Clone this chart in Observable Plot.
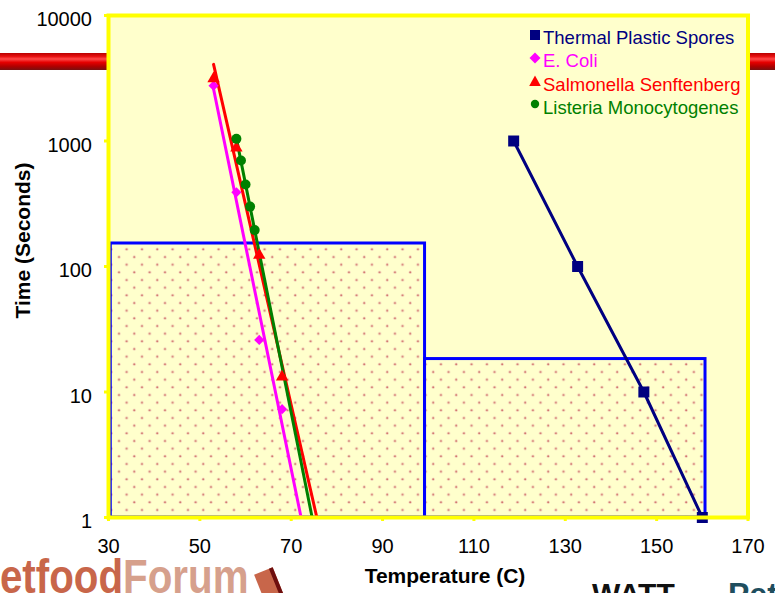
<!DOCTYPE html>
<html><head><meta charset="utf-8">
<script src="https://cdn.jsdelivr.net/npm/d3@7"></script>
<script src="https://cdn.jsdelivr.net/npm/@observablehq/plot@0.6"></script>
<style>
body{margin:0;background:#fff;}
#wrap{position:relative;width:775px;height:593px;overflow:hidden;font-family:"Liberation Sans",Arial,sans-serif;background:#fff;}
#bar{position:absolute;left:0;top:53px;width:775px;height:17px;background:linear-gradient(to bottom,#b80000 0%,#e81010 20%,#ff4a4a 35%,#e60000 55%,#b00000 78%,#781010 100%);}
#chart{position:absolute;left:0;top:0;}
.leg{position:absolute;left:529px;height:23.3px;line-height:23.3px;font-size:18.5px;white-space:nowrap;}
.leg svg{position:absolute;left:0;top:2.5px;}
.leg span{position:absolute;left:14px;top:0;}
.title{position:absolute;font-weight:bold;font-size:21px;line-height:21px;color:#000;white-space:nowrap;text-align:center;}
.logo{position:absolute;white-space:nowrap;font-weight:bold;}
</style></head>
<body><div id="wrap">
<div id="bar"></div>
<div id="chart"></div>
<div id="legend"></div>
<div class="title" style="left:325px;top:565.3px;width:240px;">Temperature (C)</div>
<div class="title" style="left:-98px;top:230px;width:240px;transform:rotate(-90deg);">Time (Seconds)</div>
<div class="logo" style="left:-27px;top:552.5px;font-size:48px;line-height:48px;transform-origin:0 0;transform:scaleX(0.84);color:#c8664a;">Petfood<span style="color:#d6a08c">Forum</span></div>
<div style="position:absolute;left:259px;top:570px;width:16px;height:30px;background:#c8664a;border-right:4px solid #6e0f0f;transform:rotate(-22deg);"></div>
<div class="logo" style="left:592px;top:579px;font-size:30px;line-height:30px;color:#111;">WATT</div>
<div class="logo" style="left:728px;top:578px;font-size:32px;line-height:32px;color:#1f4e5e;">Pet</div>
</div>
<script>
// ---- data ----
const xTicks = [30, 50, 70, 90, 110, 130, 150, 170];
const yTicks = [1, 10, 100, 1000, 10000];

const thermalTemp = [118.7, 132.7, 147.2, 160.0];
const thermalTime = [1000, 100, 10, 1];

const ecoliTemp = [53, 58, 63, 68];
const ecoliTime = [2760, 390, 26, 7.3];

const salmTemp = [53, 58, 63, 68];
const salmTime = [3140, 880, 123, 13.2];

const listTemp = [58, 59, 60, 61, 62];
const listTime = [1040, 700, 450, 300, 195];

const zoneStart = [30.5, 99.3];
const zoneEnd = [99.3, 160.7];
const zoneTime = [152.5, 18.3];
const zoneBase = [1, 1];

const seriesNames = ["Thermal Plastic Spores", "E. Coli", "Salmonella Senftenberg", "Listeria Monocytogenes"];
const seriesColors = ["#000080", "#ff00ff", "#ff0000", "#008000"];

// ---- tables ----
const pts = (xs, ys) => xs.map((t, i) => ({t, s: ys[i]}));
const thermal = pts(thermalTemp, thermalTime);
const ecoli = pts(ecoliTemp, ecoliTime);
const salm = pts(salmTemp, salmTime);
const list = pts(listTemp, listTime);
const zones = zoneStart.map((a, i) => ({x1: a, x2: zoneEnd[i], y1: zoneBase[i], y2: zoneTime[i]}));

// exponential trendline (linear fit of log10 time) from first point forward to time = 1
function trend(xs, ys) {
  const ly = ys.map(v => Math.log10(v));
  const mx = d3.mean(xs), my = d3.mean(ly);
  const b = d3.sum(xs, (x, i) => (x - mx) * (ly[i] - my)) / d3.sum(xs, x => (x - mx) ** 2);
  const a = my - b * mx;
  const x0 = d3.min(xs);
  return [{t: x0, s: 10 ** (a + b * x0)}, {t: -a / b, s: 1}];
}

const chart = Plot.plot({
  width: 775, height: 593,
  marginLeft: 108, marginRight: 27.5, marginTop: 15, marginBottom: 76,
  style: {background: "transparent", fontFamily: "Liberation Sans, Arial, sans-serif", overflow: "visible"},
  x: {domain: [30, 170]},
  y: {type: "log", domain: [1, 10000]},
  marks: [
    Plot.frame({fill: "#ffffcc", stroke: null}),
    Plot.rect(zones, {x1: "x1", x2: "x2", y1: "y1", y2: "y2", fill: "url(#dots)", stroke: "#0000ff", strokeWidth: 3}),
    Plot.line(thermal, {x: "t", y: "s", stroke: seriesColors[0], strokeWidth: 3}),
    Plot.line(trend(ecoliTemp, ecoliTime), {x: "t", y: "s", stroke: seriesColors[1], strokeWidth: 3}),
    Plot.line(trend(salmTemp, salmTime), {x: "t", y: "s", stroke: seriesColors[2], strokeWidth: 3}),
    Plot.line(trend(listTemp, listTime), {x: "t", y: "s", stroke: seriesColors[3], strokeWidth: 3}),
    Plot.dot(thermal, {x: "t", y: "s", symbol: "square", r: 6.2, fill: seriesColors[0], stroke: "none"}),
    Plot.dot(ecoli, {x: "t", y: "s", symbol: "diamond2", r: 4.6, fill: seriesColors[1], stroke: "none"}),
    Plot.dot(salm, {x: "t", y: "s", symbol: "triangle", r: 4.6, fill: seriesColors[2], stroke: "none"}),
    Plot.dot(list, {x: "t", y: "s", symbol: "circle", r: 5, fill: seriesColors[3], stroke: "none"}),
    Plot.axisX({ticks: xTicks, tickSize: 4, stroke: "#ffff00", strokeWidth: 3, tickFormat: () => "", label: null}),
    Plot.axisY({ticks: yTicks, tickSize: 4, stroke: "#ffff00", strokeWidth: 3, tickFormat: () => "", label: null}),
    Plot.frame({stroke: "#ffff00", strokeWidth: 4, fill: "none"}),
    Plot.axisX({ticks: xTicks, tickSize: 0, tickPadding: 21, fontSize: 20, fill: "#000", tickFormat: d => String(d), label: null}),
    Plot.axisY({ticks: yTicks, tickSize: 0, tickPadding: 16.5, fontSize: 20, dy: 4.5, fill: "#000", tickFormat: d => String(d), label: null})
  ]
});

d3.select(chart).insert("defs", ":first-child").html(
  '<pattern id="dots" patternUnits="userSpaceOnUse" width="15.33" height="15.33">' +
  '<rect width="15.33" height="15.33" fill="#ffffcc"/>' +
  '<circle cx="4" cy="4" r="1.6" fill="#f4d9c0"/><circle cx="4" cy="4" r="1" fill="#d2776c"/>' +
  '<circle cx="11.67" cy="11.67" r="1.6" fill="#f4d9c0"/><circle cx="11.67" cy="11.67" r="1" fill="#d2776c"/>' +
  '</pattern>');
document.getElementById("chart").appendChild(chart);

// legend
const symSvg = [
  c => `<rect x="1" y="1" width="10" height="10" fill="${c}"/>`,
  c => `<polygon points="6,0.5 11.5,6 6,11.5 0.5,6" fill="${c}"/>`,
  c => `<polygon points="6,0.5 11.8,11 0.2,11" fill="${c}"/>`,
  c => `<circle cx="6" cy="6" r="4.2" fill="${c}"/>`
];
const leg = document.getElementById("legend");
seriesNames.forEach((name, i) => {
  const row = document.createElement("div");
  row.className = "leg";
  row.style.top = (26 + i * 23.3) + "px";
  row.style.color = seriesColors[i];
  row.innerHTML = `<svg width="12" height="12">${symSvg[i](seriesColors[i])}</svg><span>${name}</span>`;
  leg.appendChild(row);
});
</script>
</body></html>
